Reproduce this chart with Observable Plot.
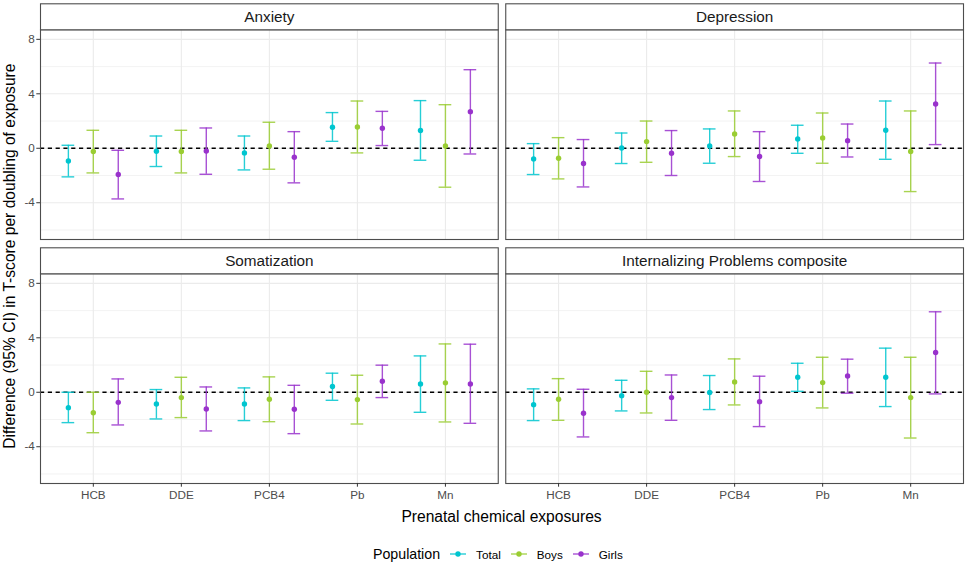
<!DOCTYPE html>
<html>
<head>
<meta charset="utf-8">
<script src="https://cdn.jsdelivr.net/npm/d3@7"></script>
<script src="https://cdn.jsdelivr.net/npm/@observablehq/plot@0.6"></script>
<style>
  body { margin: 0; background: #fff; font-family: "Liberation Sans", Arial, Helvetica, sans-serif; }
  #wrap { position: relative; width: 967px; height: 565px; overflow: hidden; }
  #legend { position: absolute; left: 373px; top: 541px; height: 26px; display: flex; align-items: center; color: #000; }
  #legend .title { font-size: 14.2px; margin-right: 9px; }
  #legend .item { display: flex; align-items: center; margin-right: 9px; }
  #legend .item span { font-size: 11.7px; margin-left: 9px; }
</style>
</head>
<body>
<div id="wrap">
  <div id="chart"></div>
  <div id="legend"></div>
</div>
<script>
// ---- data ----
const exposures = ["HCB", "DDE", "PCB4", "Pb", "Mn"];
const populations = ["Total", "Boys", "Girls"];
const outcomes = ["Anxiety", "Depression", "Somatization", "Internalizing Problems composite"];
const popColors = ["#00C5CF", "#9ACD32", "#9932CC"];

// values ordered HCB(Total, Boys, Girls), DDE(...), PCB4(...), Pb(...), Mn(...)
const anxietyEst = [-0.93, -0.24, -1.93, -0.22, -0.24, -0.20, -0.34, 0.17, -0.66, 1.54, 1.56, 1.47, 1.30, 0.17, 2.69];
const anxietyLo  = [-2.10, -1.81, -3.72, -1.34, -1.81, -1.91, -1.59, -1.54, -2.54, 0.51, -0.34, 0.20, -0.88, -2.86, -0.42];
const anxietyHi  = [0.22, 1.32, -0.15, 0.90, 1.32, 1.49, 0.90, 1.91, 1.22, 2.62, 3.47, 2.71, 3.50, 3.20, 5.77];

const depressionEst = [-0.78, -0.73, -1.12, 0.02, 0.49, -0.37, 0.17, 1.05, -0.61, 0.68, 0.76, 0.56, 1.32, -0.24, 3.25];
const depressionLo  = [-1.93, -2.25, -2.84, -1.12, -1.03, -2.00, -1.10, -0.61, -2.44, -0.37, -1.10, -0.64, -0.81, -3.18, 0.27];
const depressionHi  = [0.34, 0.78, 0.64, 1.12, 2.00, 1.30, 1.42, 2.74, 1.22, 1.69, 2.59, 1.78, 3.47, 2.74, 6.26];

const somatizationEst = [-1.13, -1.50, -0.74, -0.86, -0.39, -1.23, -0.86, -0.51, -1.25, 0.42, -0.54, 0.81, 0.61, 0.69, 0.61];
const somatizationLo  = [-2.23, -2.97, -2.40, -1.96, -1.86, -2.84, -2.08, -2.16, -3.04, -0.59, -2.33, -0.39, -1.47, -2.18, -2.28];
const somatizationHi  = [0.00, 0.00, 0.98, 0.20, 1.10, 0.39, 0.32, 1.13, 0.51, 1.40, 1.25, 1.99, 2.67, 3.55, 3.53];

const internalizingEst = [-0.91, -0.51, -1.54, -0.25, 0.00, -0.39, -0.02, 0.76, -0.69, 1.10, 0.71, 1.20, 1.10, -0.39, 2.92];
const internalizingLo  = [-2.08, -2.06, -3.28, -1.37, -1.52, -2.06, -1.27, -0.93, -2.52, 0.07, -1.15, -0.07, -1.05, -3.36, -0.12];
const internalizingHi  = [0.25, 1.00, 0.22, 0.88, 1.54, 1.27, 1.23, 2.45, 1.18, 2.13, 2.57, 2.43, 3.24, 2.57, 5.91];

const yTicks = [-4, 0, 4, 8];
const yMinorTicks = [-6, -2, 2, 6];

// ---- build table ----
const estimates = [anxietyEst, depressionEst, somatizationEst, internalizingEst];
const lowers = [anxietyLo, depressionLo, somatizationLo, internalizingLo];
const uppers = [anxietyHi, depressionHi, somatizationHi, internalizingHi];

const dodgeWidth = 0.85;
const capHalf = 0.072;
const rows = [];
outcomes.forEach((o, k) => {
  exposures.forEach((e, i) => {
    populations.forEach((p, j) => {
      const n = i * populations.length + j;
      rows.push({
        outcome: o, col: k % 2, row: Math.floor(k / 2),
        exposure: e, population: p,
        x: i + (j - 1) * dodgeWidth / populations.length,
        est: estimates[k][n], lo: lowers[k][n], hi: uppers[k][n]
      });
    });
  });
});
const panels = outcomes.map((o, k) => ({outcome: o, col: k % 2, row: Math.floor(k / 2)}));

// ---- layout ----
const W = 967, H = 535;
const mTop = 29.3, mBottom = H - 483, mLeft = 40, mRight = 4;
const colGap = 7.5, rowGap = 34.3, stripH = 26;
const rangeW = W - mLeft - mRight, rangeH = H - mTop - mBottom;
const pInX = 2 * colGap / (rangeW + colGap);
const pInY = 2 * rowGap / (rangeH + rowGap);
const panelH = (rangeH - rowGap) / 2;

const font = "Liberation Sans, Arial, Helvetica, sans-serif";

const plot = Plot.plot({
  width: W, height: H,
  marginTop: mTop, marginBottom: mBottom, marginLeft: mLeft, marginRight: mRight,
  style: {fontFamily: font, background: "white", color: "#000"},
  fx: {domain: [0, 1], paddingInner: pInX, paddingOuter: 0, round: false, axis: null, label: null},
  fy: {domain: [0, 1], paddingInner: pInY, paddingOuter: 0, round: false, axis: null, label: null},
  x: {type: "linear", domain: [-0.6, exposures.length - 0.4]},
  y: {domain: [-6.7, 8.7]},
  color: {domain: populations, range: popColors},
  marks: [
    Plot.gridY(yMinorTicks, {stroke: "#ebebeb", strokeOpacity: 1, strokeWidth: 0.6}),
    Plot.gridY(yTicks, {stroke: "#ebebeb", strokeOpacity: 1, strokeWidth: 1.1}),
    Plot.gridX(d3.range(exposures.length), {stroke: "#ebebeb", strokeOpacity: 1, strokeWidth: 1.1}),
    Plot.ruleY([0], {stroke: "#000", strokeWidth: 1.3, strokeDasharray: "4.2,3.6"}),
    Plot.ruleX(rows, {fx: "col", fy: "row", x: "x", y1: "lo", y2: "hi", stroke: "population", strokeWidth: 1.4, strokeOpacity: 0.85}),
    Plot.ruleY(rows, {fx: "col", fy: "row", y: "lo", x1: d => d.x - capHalf, x2: d => d.x + capHalf, stroke: "population", strokeWidth: 1.4, strokeOpacity: 0.85}),
    Plot.ruleY(rows, {fx: "col", fy: "row", y: "hi", x1: d => d.x - capHalf, x2: d => d.x + capHalf, stroke: "population", strokeWidth: 1.4, strokeOpacity: 0.85}),
    Plot.dot(rows, {fx: "col", fy: "row", x: "x", y: "est", fill: "population", r: 2.7}),
    Plot.frame({stroke: "#4d4d4d", strokeWidth: 1.1}),
    Plot.frame({fill: "white", stroke: "#4d4d4d", strokeWidth: 1.1, insetTop: -stripH, insetBottom: panelH}),
    Plot.text(panels, {fx: "col", fy: "row", text: "outcome", frameAnchor: "top", lineAnchor: "middle", dy: -stripH / 2, fontSize: 15.3, fill: "#1a1a1a"}),
    Plot.axisY({ticks: yTicks, tickFormat: d => String(d), facetAnchor: "left", label: null, tickSize: 3.7, tickPadding: 2, fontSize: 11.7, stroke: "#333", fill: "#4d4d4d"}),
    Plot.axisX({ticks: d3.range(exposures.length), tickFormat: i => exposures[i], facetAnchor: "bottom", label: null, tickSize: 3.7, tickPadding: 3, fontSize: 11.7, stroke: "#333", fill: "#4d4d4d"})
  ]
});

const svg = d3.select(plot);
svg.append("text")
  .attr("transform", `translate(11,${(mTop + H - mBottom) / 2}) rotate(-90)`)
  .attr("text-anchor", "middle").attr("dominant-baseline", "middle")
  .attr("font-size", 15.6).attr("font-family", font).attr("fill", "#000")
  .text("Difference (95% CI) in T-score per doubling of exposure");
svg.append("text")
  .attr("x", mLeft + rangeW / 2).attr("y", 518)
  .attr("text-anchor", "middle").attr("dominant-baseline", "middle")
  .attr("font-size", 15.6).attr("font-family", font).attr("fill", "#000")
  .text("Prenatal chemical exposures");

document.getElementById("chart").appendChild(plot);

// ---- legend ----
const legend = d3.select("#legend");
legend.append("div").attr("class", "title").text("Population");
populations.forEach((p, j) => {
  const item = legend.append("div").attr("class", "item");
  const s = item.append("svg").attr("width", 18).attr("height", 18);
  s.append("line").attr("x1", 1).attr("x2", 17).attr("y1", 9).attr("y2", 9)
    .attr("stroke", popColors[j]).attr("stroke-width", 1.4).attr("stroke-opacity", 0.85);
  s.append("circle").attr("cx", 9).attr("cy", 9).attr("r", 2.7).attr("fill", popColors[j]);
  item.append("span").text(p);
});
</script>
</body>
</html>
